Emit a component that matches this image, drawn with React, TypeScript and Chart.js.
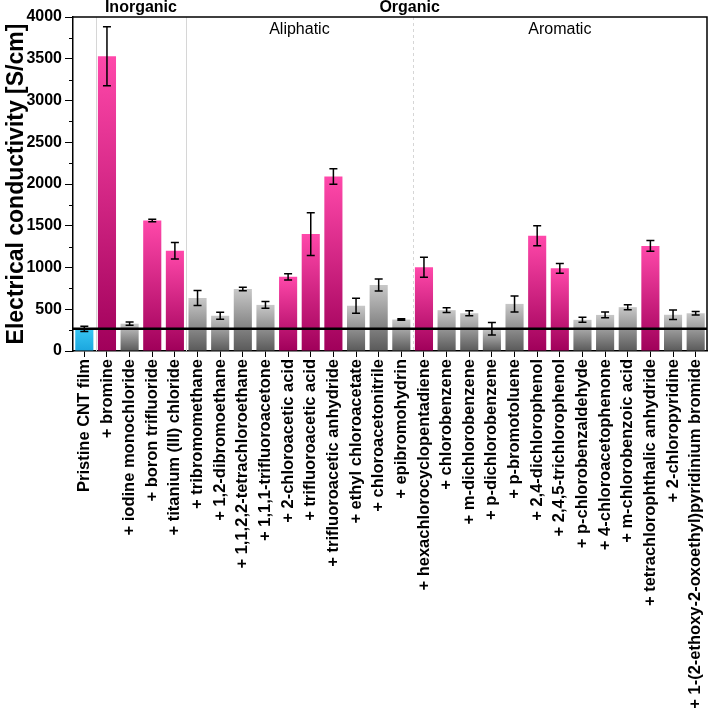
import { useEffect, useRef } from "react";
import { Chart, registerables } from "chart.js";

Chart.register(...registerables);

const categories = [
  "Pristine CNT film",
  "+ bromine",
  "+ iodine monochloride",
  "+ boron trifluoride",
  "+ titanium (III) chloride",
  "+ tribromomethane",
  "+ 1,2-dibromoethane",
  "+ 1,1,2,2-tetrachloroethane",
  "+ 1,1,1-trifluoroacetone",
  "+ 2-chloroacetic acid",
  "+ trifluoroacetic acid",
  "+ trifluoroacetic anhydride",
  "+ ethyl chloroacetate",
  "+ chloroacetonitrile",
  "+ epibromohydrin",
  "+ hexachlorocyclopentadiene",
  "+ chlorobenzene",
  "+ m-dichlorobenzene",
  "+ p-dichlorobenzene",
  "+ p-bromotoluene",
  "+ 2,4-dichlorophenol",
  "+ 2,4,5-trichlorophenol",
  "+ p-chlorobenzaldehyde",
  "+ 4-chloroacetophenone",
  "+ m-chlorobenzoic acid",
  "+ tetrachlorophthalic anhydride",
  "+ 2-chloropyridine",
  "+ 1-(2-ethoxy-2-oxoethyl)pyridinium bromide",
];

const conductivity = [
  265, 3530, 327, 1563, 1200, 636, 422, 743, 552, 888, 1400, 2090, 542, 791,
  377, 1003, 489, 452, 266, 564, 1379, 990, 373, 432, 525, 1258, 434, 452,
];

const errors = [
  30, 354, 20, 14, 98, 90, 42, 20, 40, 38, 256, 92, 90, 72, 10, 120, 28, 30,
  74, 96, 120, 58, 30, 34, 30, 64, 56, 22,
];

// "base" = pristine, "high" = strong enhancement, "low" = weak enhancement
const kinds = [
  "base", "high", "low", "high", "high", "low", "low", "low", "low", "high",
  "high", "high", "low", "low", "low", "high", "low", "low", "low", "low",
  "high", "high", "low", "low", "low", "high", "low", "low",
];

const pristineLevel = 265;
const yMin = 0;
const yMax = 4000;
const yStep = 500;
const yMinorStep = 250;

// Group boundaries (index of first category after the separator)
const separatorIndices = [1, 5, 15];
const separatorDashed = [false, false, true];

// Top (outside) group labels and their category ranges
const outerGroupLabels = ["Inorganic", "Organic"];
const outerGroupRanges = [
  [1, 4],
  [15, 15],
];
const innerGroupLabels = ["Aliphatic", "Aromatic"];
const innerGroupRanges = [
  [5, 14],
  [15, 27],
];

const FONT = "'Liberation Sans', Arial, Helvetica, sans-serif";

const gradientStops: Record<string, [string, string]> = {
  base: ["#38c6f4", "#1ba6de"],
  high: ["#ff48aa", "#a0005a"],
  low: ["#c8c8c8", "#5a5a5a"],
};

export default function App() {
  const canvasRef = useRef<HTMLCanvasElement | null>(null);

  useEffect(() => {
    const canvas = canvasRef.current;
    if (!canvas) return;

    const boundaryX = (chart: any, idx: number) => {
      const x = chart.scales.x;
      return (x.getPixelForValue(idx - 1) + x.getPixelForValue(idx)) / 2;
    };

    const decorPlugin = {
      id: "decor",
      beforeDatasetsDraw(chart: any) {
        const { ctx, chartArea } = chart;
        ctx.save();
        separatorIndices.forEach((idx, i) => {
          const x = boundaryX(chart, idx);
          ctx.beginPath();
          ctx.strokeStyle = "#d6d6d6";
          ctx.lineWidth = 1;
          ctx.setLineDash(separatorDashed[i] ? [3, 3] : []);
          ctx.moveTo(Math.round(x) + 0.5, chartArea.top);
          ctx.lineTo(Math.round(x) + 0.5, chartArea.bottom);
          ctx.stroke();
        });
        ctx.setLineDash([]);
        ctx.restore();
      },
      afterDatasetsDraw(chart: any) {
        const { ctx, chartArea, scales } = chart;
        const xs = scales.x;
        const ys = scales.y;
        ctx.save();
        // error bars
        ctx.strokeStyle = "#000";
        ctx.lineWidth = 1.5;
        conductivity.forEach((v, i) => {
          const x = xs.getPixelForValue(i);
          const yt = ys.getPixelForValue(v + errors[i]);
          const yb = ys.getPixelForValue(v - errors[i]);
          const cap = 4;
          ctx.beginPath();
          ctx.moveTo(x, yt);
          ctx.lineTo(x, yb);
          ctx.moveTo(x - cap, yt);
          ctx.lineTo(x + cap, yt);
          ctx.moveTo(x - cap, yb);
          ctx.lineTo(x + cap, yb);
          ctx.stroke();
        });
        // pristine reference line
        const yp = ys.getPixelForValue(pristineLevel);
        ctx.beginPath();
        ctx.lineWidth = 2.5;
        ctx.moveTo(chartArea.left, yp);
        ctx.lineTo(chartArea.right, yp);
        ctx.stroke();
        // frame
        ctx.lineWidth = 1.5;
        ctx.beginPath();
        ctx.moveTo(chartArea.left, chartArea.top);
        ctx.lineTo(chartArea.right, chartArea.top);
        ctx.lineTo(chartArea.right, chartArea.bottom);
        ctx.stroke();
        // minor y ticks
        ctx.lineWidth = 1;
        for (let v = yMin + yMinorStep; v < yMax; v += 2 * yMinorStep) {
          const y = Math.round(ys.getPixelForValue(v)) + 0.5;
          ctx.beginPath();
          ctx.moveTo(chartArea.left - 4, y);
          ctx.lineTo(chartArea.left, y);
          ctx.stroke();
        }
        // group labels
        ctx.fillStyle = "#000";
        ctx.textAlign = "center";
        ctx.textBaseline = "middle";
        ctx.font = `bold 16px ${FONT}`;
        outerGroupLabels.forEach((t, i) => {
          const [a, b] = outerGroupRanges[i];
          const x1 = boundaryX(chart, a);
          const x2 = a === b ? x1 : boundaryX(chart, b + 1);
          ctx.fillText(t, (x1 + x2) / 2 - (a === b ? 3 : 0), chartArea.top - 9);
        });
        ctx.font = `16px ${FONT}`;
        innerGroupLabels.forEach((t, i) => {
          const [a, b] = innerGroupRanges[i];
          const x1 = boundaryX(chart, a);
          const x2 = b + 1 < categories.length ? boundaryX(chart, b + 1) : chartArea.right;
          ctx.fillText(t, (x1 + x2) / 2, chartArea.top + 13);
        });
        ctx.restore();
      },
    };

    const chart = new Chart(canvas, {
      type: "bar",
      data: {
        labels: categories,
        datasets: [
          {
            data: conductivity,
            barPercentage: 0.8,
            categoryPercentage: 1,
            borderWidth: 0,
            backgroundColor: (c: any) => {
              const ch = c.chart;
              const kind = kinds[c.dataIndex] || "low";
              const [top, bottom] = gradientStops[kind];
              if (!ch.chartArea || !ch.scales || !ch.scales.y) return top;
              const ys = ch.scales.y;
              const v = conductivity[c.dataIndex];
              const y0 = ys.getPixelForValue(v);
              const y1 = ys.getPixelForValue(0);
              if (!isFinite(y0) || !isFinite(y1) || y0 === y1) return top;
              const g = ch.ctx.createLinearGradient(0, y0, 0, y1);
              g.addColorStop(0, top);
              g.addColorStop(1, bottom);
              return g;
            },
          },
        ],
      },
      options: {
        animation: false,
        responsive: false,
        maintainAspectRatio: false,
        layout: { padding: { top: 17, right: 2, left: 0, bottom: 0 } },
        plugins: {
          legend: { display: false },
          tooltip: { enabled: false },
        },
        scales: {
          x: {
            offset: true,
            grid: {
              offset: false,
              drawOnChartArea: false,
              drawTicks: true,
              tickLength: 6,
              tickColor: "#000",
              tickWidth: 1,
            },
            border: { display: true, color: "#000", width: 1.5 },
            ticks: {
              autoSkip: false,
              minRotation: 90,
              maxRotation: 90,
              padding: 2,
              color: "#000",
              font: { family: FONT, size: 16.5, weight: "bold" },
            },
            afterFit: (s: any) => {
              s.height = 359;
              s.paddingLeft = 0;
              s.paddingRight = 0;
            },
          },
          y: {
            min: yMin,
            max: yMax,
            ticks: {
              stepSize: yStep,
              padding: 3,
              color: "#000",
              font: { family: FONT, size: 16, weight: "bold" },
              callback: (v: any) => String(v),
            },
            grid: {
              drawOnChartArea: false,
              drawTicks: true,
              tickLength: 8,
              tickColor: "#000",
              tickWidth: 1,
            },
            border: { display: true, color: "#000", width: 1.5 },
            title: {
              display: true,
              text: "Electrical conductivity [S/cm]",
              color: "#000",
              font: { family: FONT, size: 23, weight: "bold" },
              padding: { top: 3, bottom: 4 },
            },
            afterFit: (s: any) => {
              s.width = 73;
              s.paddingTop = 0;
              s.paddingBottom = 0;
            },
          },
        },
      },
      plugins: [decorPlugin],
    } as any);

    return () => {
      chart.destroy();
    };
  }, []);

  return (
    <div
      style={{
        position: "fixed",
        left: 0,
        top: 0,
        width: 709,
        height: 710,
        background: "#fff",
      }}
    >
      <canvas ref={canvasRef} width={709} height={710} style={{ display: "block" }} />
    </div>
  );
}
